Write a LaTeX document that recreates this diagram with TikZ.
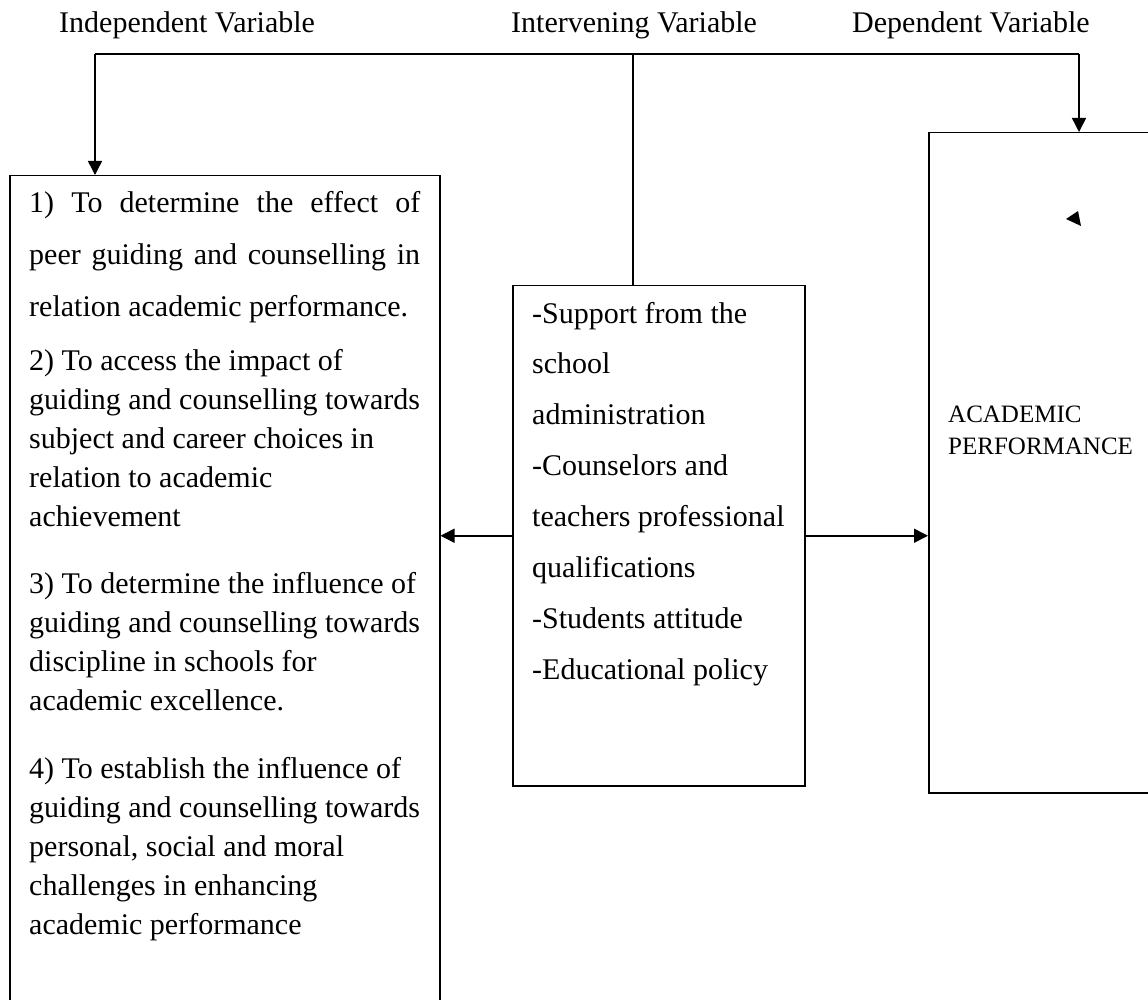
\documentclass[tikz,border=0pt]{standalone}
\usepackage{fontspec}
\setmainfont{Liberation Serif}
\usetikzlibrary{arrows.meta}
\begin{document}
\begin{tikzpicture}[x=1pt,y=-1pt,
  box/.style={draw,line width=1.5pt,inner sep=0pt,anchor=north west},
  conn/.style={line width=1.5pt},
  arr/.style={line width=1.5pt,-{Triangle[length=14pt,width=14pt]}},
  txt/.style={anchor=base west,inner sep=0pt,align=left}]
\clip (0,0) rectangle (1148,1000);
% boxes
\node[box,minimum width=430pt,minimum height=850pt] (left) at (9,175) {};
\node[box,minimum width=292pt,minimum height=500pt] (mid) at (512,285) {};
\node[box,minimum width=240pt,minimum height=660pt] (right) at (928,132) {};
% headers
\node[txt,font=\fontsize{30}{36}\selectfont] (h1) at (59,33) {Independent Variable};
\node[txt,font=\fontsize{30}{36}\selectfont] (h2) at (511,33) {Intervening Variable};
\node[txt,font=\fontsize{30}{36}\selectfont] (h3) at (852,33) {Dependent Variable};
% connectors
\coordinate (jl) at (95,54);
\coordinate (jm) at (633,54);
\coordinate (jr) at (1079,54);
\draw[conn] (jl) -- (jr);
\draw[conn] (jm) -- (jm |- mid.north);
\draw[arr] (jl) -- (jl |- left.north);
\draw[arr] (jr) -- (jr |- right.north);
\draw[arr] (mid.west) -- (left.east |- mid.west);
\draw[arr] (mid.east) -- (right.west |- mid.east);
% small stray arrowhead
\fill (1066,219) -- (1078,211) -- (1081,226) -- cycle;
% left box texts
\node[txt,font=\fontsize{30}{52}\selectfont] (i1) at (29,213) {\begin{tabular}[t]{@{}l@{}}
\makebox[391pt][s]{1) To determine the effect of}\\
\makebox[391pt][s]{peer guiding and counselling in}\\
relation academic performance.\end{tabular}};
\node[txt,font=\fontsize{30}{39.2}\selectfont] (i2) at (29,370) {\begin{tabular}[t]{@{}l@{}}
2) To access the impact of\\
guiding and counselling towards\\
subject and career choices in\\
relation to academic\\
achievement\end{tabular}};
\node[txt,font=\fontsize{30}{39}\selectfont] (i3) at (29,593) {\begin{tabular}[t]{@{}l@{}}
3) To determine the influence of\\
guiding and counselling towards\\
discipline in schools for\\
academic excellence.\end{tabular}};
\node[txt,font=\fontsize{30}{39}\selectfont] (i4) at (29,778) {\begin{tabular}[t]{@{}l@{}}
4) To establish the influence of\\
guiding and counselling towards\\
personal, social and moral\\
challenges in enhancing\\
academic performance\end{tabular}};
% middle box text
\node[txt,font=\fontsize{30}{50.9}\selectfont] (m) at (532,323) {\begin{tabular}[t]{@{}l@{}}
-Support from the\\
school\\
administration\\
-Counselors and\\
teachers professional\\
qualifications\\
-Students attitude\\
-Educational policy\end{tabular}};
% right box text
\node[txt,font=\fontsize{25}{32}\selectfont] (r) at (948,422) {\begin{tabular}[t]{@{}l@{}}
ACADEMIC\\
PERFORMANCE\end{tabular}};
\end{tikzpicture}
\end{document}
